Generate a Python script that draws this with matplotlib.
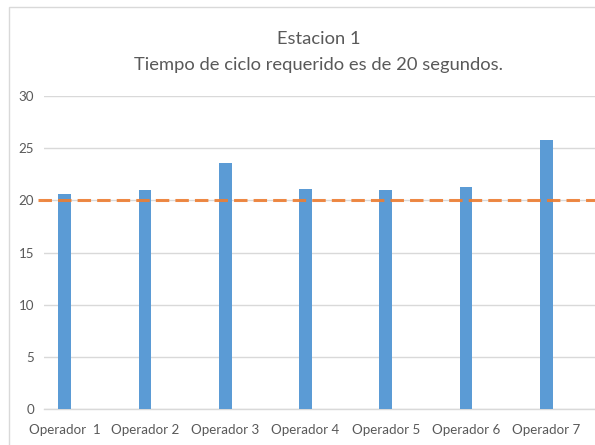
import matplotlib
matplotlib.use("Agg")
import matplotlib.pyplot as plt
from matplotlib.patches import Rectangle

categories = ["Operador  1", "Operador 2", "Operador 3", "Operador 4",
              "Operador 5", "Operador 6", "Operador 7"]
tiempos = [20.6, 21.0, 23.6, 21.1, 21.0, 21.3, 25.8]
requerido = 20
yticks = [0, 5, 10, 15, 20, 25, 30]
title_lines = ["Estacion 1", "Tiempo de ciclo requerido es de 20 segundos."]

plt.rcParams['font.family'] = ['Lato', 'DejaVu Sans']

W, H = 595, 445
fig = plt.figure(figsize=(W / 100, H / 100), dpi=100)
fig.patch.set_facecolor('white')

# chart border
fig.patches.append(Rectangle((9 / W, -0.1), 1.2, 1 - 7 / H + 0.1,
                             transform=fig.transFigure, fill=False,
                             edgecolor='#D9D9D9', linewidth=1.0))

ax_left, ax_right = 44 / W, 1.0
ax_bottom, ax_top = 1 - 409 / H, 1 - 96 / H
ax = fig.add_axes([ax_left, ax_bottom, ax_right - ax_left, ax_top - ax_bottom])

x = list(range(1, len(categories) + 1))
spacing = 80.25
x0 = 1 - (64.7 - 44) / spacing
x1 = 1 + (595 - 64.7) / spacing
ax.set_xlim(x0, x1)
ax.set_ylim(0, 30)

ax.bar(x, tiempos, width=12.7 / spacing, color='#5B9BD5', zorder=3)

lx0 = 1 - (64.7 - 38) / spacing
ax.plot([lx0, x1], [requerido, requerido], color='#ED7D31', linewidth=2.2,
        dashes=(4.4, 2.0), zorder=4, clip_on=False, alpha=0.9)

ax.set_yticks(yticks)
ax.yaxis.grid(True, color='#D9D9D9', linewidth=1.0, zorder=0)
ax.set_axisbelow(True)
for s in ['left', 'right', 'top']:
    ax.spines[s].set_visible(False)
ax.spines['bottom'].set_color('#D9D9D9')
ax.spines['bottom'].set_linewidth(1.0)

ax.set_xticks(x)
ax.set_xticklabels(categories)
ax.tick_params(axis='both', length=0, labelcolor='#595959', labelsize=9.6)
ax.tick_params(axis='y', pad=7)
ax.tick_params(axis='x', pad=11)

cx = 319 / W
fig.text(cx, 1 - 39 / H, title_lines[0], ha='center', va='center',
         fontsize=13.2, color='#595959')
fig.text(cx, 1 - 65 / H, title_lines[1], ha='center', va='center',
         fontsize=13.2, color='#595959')

fig.savefig('out.png', dpi=100, facecolor='white')
